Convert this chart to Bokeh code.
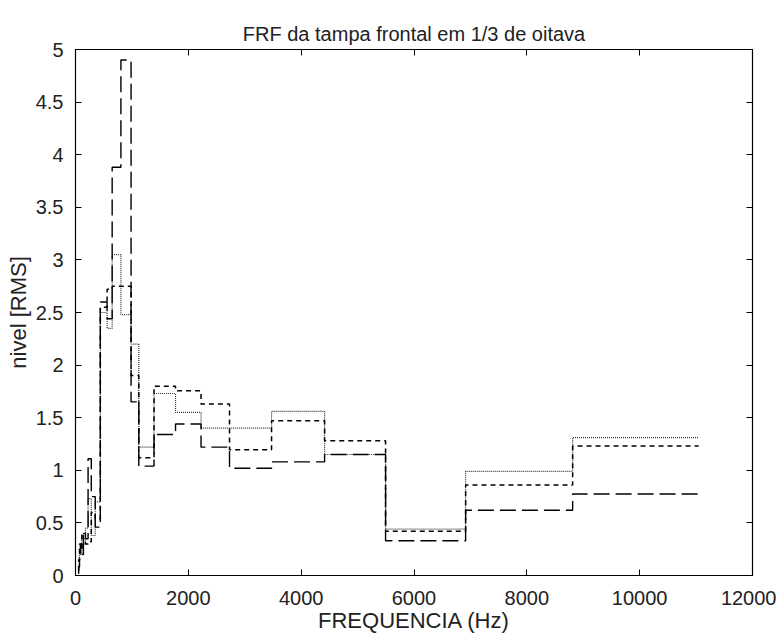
from bokeh.plotting import figure
from bokeh.models import Range1d, LinearAxis, FixedTicker
from bokeh.embed import file_html
from bokeh.resources import INLINE

# 1/3-octave band edges (Hz)
band_edges_hz = [45, 56, 71, 89, 112, 141, 177, 223, 280, 350, 440, 560, 650, 805,
                 985, 1122, 1392, 1773, 2225, 2730, 3475, 4415, 5496, 6915, 8812, 11046]

# band levels (RMS) for the three measurements
dotted_vals = [0.03, 0.10, 0.25, 0.20, 0.35, 0.30, 0.45, 0.73, 0.38, 0.70, 2.50, 2.35,
               3.05, 2.48, 2.20, 1.22, 1.73, 1.55, 1.40, 1.40, 1.56, 1.15, 0.44, 0.99, 1.31]
short_dash_vals = [0.05, 0.15, 0.30, 0.25, 0.40, 0.35, 0.30, 0.32, 0.60, 0.54, 2.55, 2.72,
                   2.75, 2.75, 1.90, 1.12, 1.80, 1.755, 1.63, 1.195, 1.47, 1.28, 0.42, 0.86, 1.23]
long_dash_vals = [0.02, 0.08, 0.15, 0.30, 0.20, 0.40, 0.35, 1.11, 0.75, 0.46, 2.60, 2.44,
                  3.88, 4.90, 1.65, 1.04, 1.34, 1.44, 1.22, 1.02, 1.08, 1.15, 0.33, 0.62, 0.775]

x_ticks = [0, 2000, 4000, 6000, 8000, 10000, 12000]
y_ticks = [0, 0.5, 1, 1.5, 2, 2.5, 3, 3.5, 4, 4.5, 5]
y_tick_labels = ["0", "0.5", "1", "1.5", "2", "2.5", "3", "3.5", "4", "4.5", "5"]

FONT = "Liberation Sans"

p = figure(width=776, height=635, output_backend="svg", toolbar_location=None,
           x_range=Range1d(0, 12000), y_range=Range1d(0, 5),
           min_border_left=75, min_border_right=24, min_border_top=49, min_border_bottom=60,
           title="FRF da tampa frontal em 1/3 de oitava",
           x_axis_label="FREQUENCIA (Hz)", y_axis_label="nivel [RMS]")

p.background_fill_color = "white"
p.border_fill_color = "white"
p.outline_line_color = "black"
p.outline_line_width = 1.2
p.grid.visible = False

p.title.align = "center"
p.title.text_font = FONT
p.title.text_font_size = "20px"
p.title.text_font_style = "normal"
p.title.text_color = "#222222"
p.title.standoff = 10

for ax in (p.xaxis[0], p.yaxis[0]):
    ax.axis_label_text_font = FONT
    ax.axis_label_text_font_style = "normal"
    ax.axis_label_text_font_size = "22px"
    ax.axis_label_text_color = "#222222"
    ax.major_label_text_font = FONT
    ax.major_label_text_font_size = "20px"
    ax.major_label_text_color = "#222222"
    ax.major_tick_in = 6
    ax.major_tick_out = 0
    ax.minor_tick_line_color = None
    ax.axis_line_color = "black"
    ax.major_tick_line_color = "black"

p.xaxis[0].ticker = FixedTicker(ticks=x_ticks)
p.yaxis[0].ticker = FixedTicker(ticks=y_ticks)
p.yaxis[0].major_label_overrides = {t: l for t, l in zip(y_ticks, y_tick_labels)}
p.xaxis[0].major_label_standoff = 15
p.xaxis[0].axis_label_standoff = 0
p.yaxis[0].major_label_standoff = 12
p.yaxis[0].axis_label_standoff = 2

top_ax = LinearAxis(ticker=FixedTicker(ticks=x_ticks), major_label_text_font_size="1px",
                    major_label_text_color=None,
                    major_tick_in=6, major_tick_out=0, minor_tick_line_color=None,
                    axis_line_color="black", major_label_standoff=0)
right_ax = LinearAxis(ticker=FixedTicker(ticks=y_ticks), major_label_text_font_size="1px",
                      major_label_text_color=None,
                      major_tick_in=6, major_tick_out=0, minor_tick_line_color=None,
                      axis_line_color="black", major_label_standoff=0)
p.add_layout(top_ax, "above")
p.add_layout(right_ax, "right")

p.step(band_edges_hz, dotted_vals + [dotted_vals[-1]], mode="after",
       line_color="#333333", line_width=1.2, line_dash="1 1")
p.step(band_edges_hz, short_dash_vals + [short_dash_vals[-1]], mode="after",
       line_color="black", line_width=1.5, line_dash="5 4")
p.step(band_edges_hz, long_dash_vals + [long_dash_vals[-1]], mode="after",
       line_color="black", line_width=1.4, line_dash="16 6")

open("out.html", "w").write(file_html(p, INLINE))
